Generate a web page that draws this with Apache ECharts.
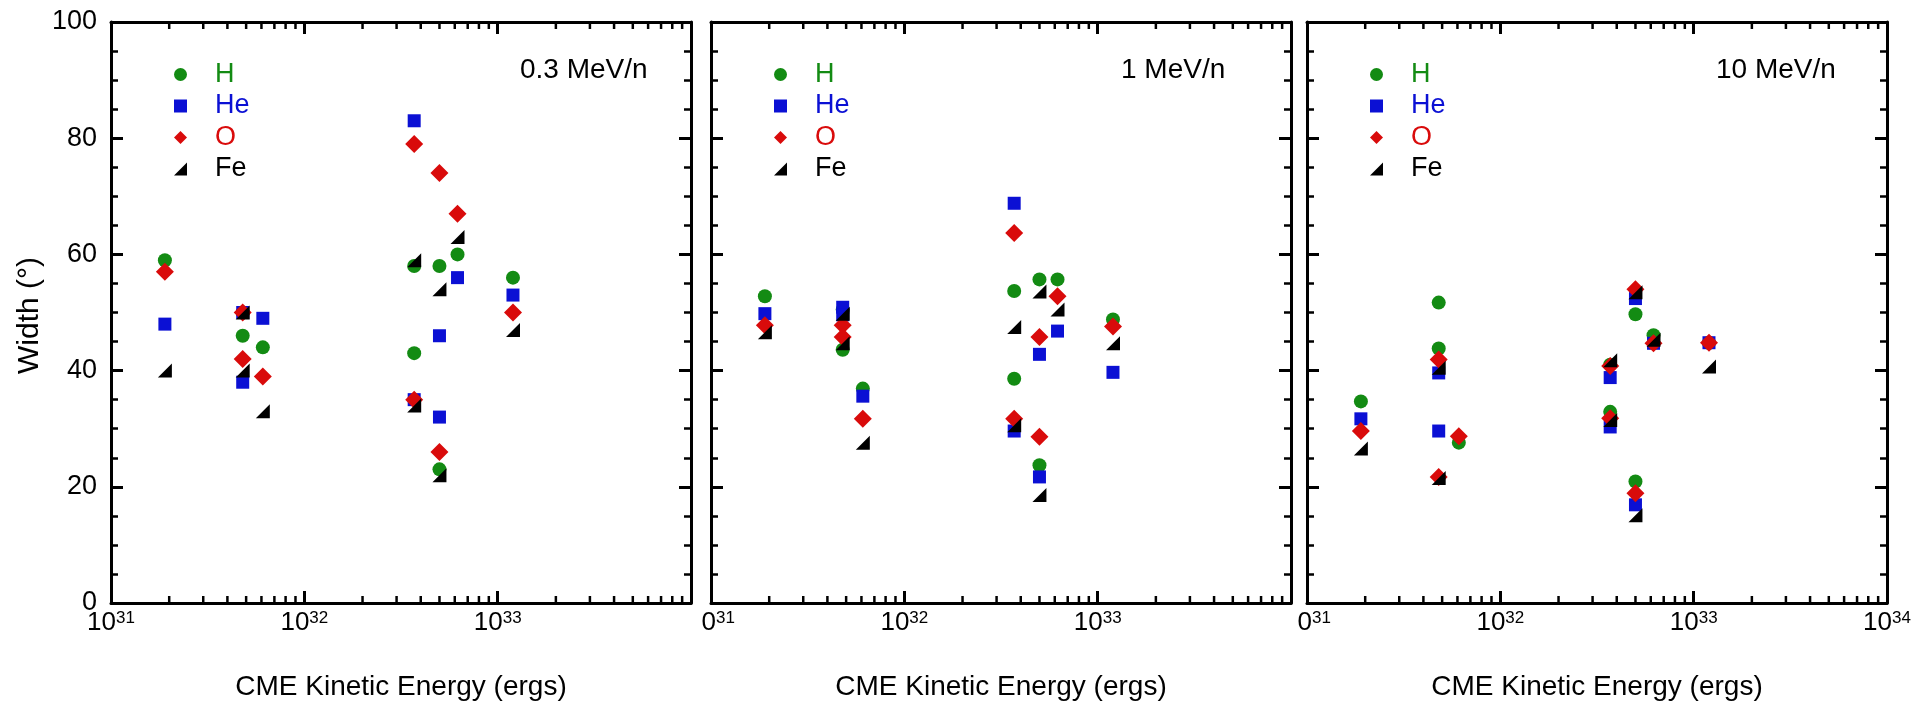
<!DOCTYPE html>
<html>
<head>
<meta charset="utf-8">
<script src="https://cdn.jsdelivr.net/npm/echarts@6/dist/echarts.min.js"></script>
<style>
  html, body { margin: 0; padding: 0; background: #fff; }
  #chart { width: 1931px; height: 706px; }
</style>
</head>
<body>
<div id="chart"></div>
<script>
// CME kinetic energy (ergs) of each event, same events in all three panels
const energy = [1.9e31, 4.8e31, 4.8e31, 6.1e31, 3.7e32, 3.7e32, 5.0e32, 5.0e32, 6.2e32, 1.2e33];

// longitudinal width (deg) per species, 0.3 MeV/n
const h03  = [59, 50, 46, 44, 58, 43, 58, 23, 60, 56];
const he03 = [48, 50, 38, 49, 83, 35, 46, 32, 56, 53];
const o03  = [57, 50, 42, 39, 79, 35, 74, 26, 67, 50];
const fe03 = [40, 50, 40, 33, 59, 34, 54, 22, 63, 47];

// 1 MeV/n
const h1  = [52.8, 50.5, 43.6, 36.9, 53.7, 38.6, 55.7, 23.7, 55.7, 48.8];
const he1 = [49.8, 50.9, 49.6, 35.6, 68.8, 29.6, 42.8, 21.7, 46.8, 39.7];
const o1  = [47.8, 47.8, 45.8, 31.7, 63.7, 31.7, 45.8, 28.6, 52.8, 47.6];
const fe1 = [46.6, 49.8, 44.7, 27.6, 47.5, 30.6, 53.6, 18.6, 50.5, 44.7];

// 10 MeV/n
const h10  = [34.7, 51.7, 43.8, 27.6, 41.0, 32.9, 49.7, 20.9, 46.1, 44.8];
const he10 = [31.7, 39.6, 29.6, null, 38.8, 30.3, 52.4, 16.9, 44.7, 44.8];
const o10  = [29.6, 41.9, 21.7, 28.7, 40.8, 31.8, 54.0, 18.9, 44.7, 44.8];
const fe10 = [26.6, 40.5, 21.5, null, 41.8, 31.5, 53.5, 15.1, 45.3, 40.7];

const speciesNames = ['H', 'He', 'O', 'Fe'];
const panelTitles = ['0.3 MeV/n', '1 MeV/n', '10 MeV/n'];
const panelData = [
    [h03, he03, o03, fe03],
    [h1, he1, o1, fe1],
    [h10, he10, o10, fe10]
];

// styles
const speciesColor = ['#138b13', '#0b10d4', '#d90b0b', '#000000'];
const speciesSymbol = ['circle', 'rect', 'diamond', 'path://M0,10 L10,10 L10,0 Z'];
const speciesSize = [14, 13, 18, 14];
const font = 'Liberation Sans, Arial, sans-serif';

// layout of the three frames
const gridLeft = [111, 711, 1307];
const gridTop = 22;
const gridW = 580;
const gridH = 581;

// log minor ticks 2..9 per decade
const minorX = [];
[1e31, 1e32, 1e33].forEach(d => {
    for (let k = 2; k <= 9; k++) minorX.push([k * d, 0]);
});

function expOf(v) {
    return Math.round(Math.log10(v));
}

function xLabel(p) {
    return function (v) {
        let e = expOf(v);
        if (e === 34 && p < 2) return '';
        if (e === 31 && p > 0) return '{z|0}{s|31}';   // left digit cut off by the frame crop
        return '{b|10}{s|' + e + '}';
    };
}

const richX = {
    b: { fontSize: 26, lineHeight: 26, verticalAlign: 'bottom', color: '#000', fontFamily: font },
    z: { fontSize: 26, lineHeight: 26, verticalAlign: 'bottom', color: '#000', fontFamily: font, padding: [0, 0, 0, 14.5] },
    s: { fontSize: 17, lineHeight: 17, verticalAlign: 'top', color: '#000', fontFamily: font, padding: [0, 0, 13, 0] }
};

function minorRender(params, api) {
    let b = api.coord([api.value(0), 0]);
    let t = api.coord([api.value(0), 100]);
    let st = { stroke: '#000', lineWidth: 2.5 };
    return {
        type: 'group',
        children: [
            { type: 'line', shape: { x1: b[0], y1: b[1], x2: b[0], y2: b[1] - 7 }, style: st },
            { type: 'line', shape: { x1: t[0], y1: t[1], x2: t[0], y2: t[1] + 7 }, style: st }
        ]
    };
}

let grid = [], xAxis = [], yAxis = [], series = [], legend = [], title = [];

panelData.forEach((vals, p) => {
    grid.push({ left: gridLeft[p], top: gridTop, width: gridW, height: gridH });

    let axisLine = { show: true, onZero: false, lineStyle: { color: '#000', width: 3 } };
    let axisTick = { show: true, inside: true, length: 12, lineStyle: { color: '#000', width: 3 } };

    xAxis.push({
        type: 'log', logBase: 10, gridIndex: p, position: 'bottom',
        min: 1e31, max: 1e34,
        axisLine: axisLine, axisTick: axisTick, splitLine: { show: false },
        axisLabel: { show: true, margin: 7, formatter: xLabel(p), rich: richX },
        name: 'CME Kinetic Energy (ergs)', nameLocation: 'middle', nameGap: 70,
        nameTextStyle: { fontSize: 28, color: '#000', fontFamily: font }
    });
    xAxis.push({
        type: 'log', logBase: 10, gridIndex: p, position: 'top',
        min: 1e31, max: 1e34,
        axisLine: axisLine, axisTick: axisTick, splitLine: { show: false },
        axisLabel: { show: false }
    });

    let minorTick = { show: true, splitNumber: 4, length: 7, lineStyle: { color: '#000', width: 2.5 } };
    let left = {
        type: 'value', gridIndex: p, position: 'left', min: 0, max: 100, interval: 20,
        axisLine: axisLine, axisTick: axisTick, minorTick: minorTick, splitLine: { show: false },
        axisLabel: { show: p === 0, fontSize: 27, color: '#000', fontFamily: font, margin: 14 }
    };
    if (p === 0) {
        left.name = 'Width (°)';
        left.nameLocation = 'middle';
        left.nameGap = 66;
        left.nameTextStyle = { fontSize: 30, color: '#000', fontFamily: font, padding: [0, 6, 0, 0] };
    }
    yAxis.push(left);
    yAxis.push({
        type: 'value', gridIndex: p, position: 'right', min: 0, max: 100, interval: 20,
        axisLine: axisLine, axisTick: axisTick, minorTick: minorTick, splitLine: { show: false },
        axisLabel: { show: false }
    });

    vals.forEach((arr, s) => {
        series.push({
            type: 'scatter',
            name: speciesNames[s],
            xAxisIndex: p * 2,
            yAxisIndex: p * 2,
            symbol: speciesSymbol[s],
            symbolSize: speciesSize[s],
            itemStyle: { color: speciesColor[s], opacity: 1 },
            data: energy.map((e, i) => [e, arr[i]]).filter(d => d[1] != null),
            z: 3 + s
        });
    });

    series.push({
        type: 'custom',
        xAxisIndex: p * 2,
        yAxisIndex: p * 2,
        silent: true,
        renderItem: minorRender,
        data: minorX,
        z: 10
    });

    legend.push({
        orient: 'vertical',
        left: gridLeft[p] + 58,
        top: 56,
        itemWidth: 13,
        itemHeight: 13,
        itemGap: 4.5,
        selectedMode: false,
        textStyle: { fontSize: 27, lineHeight: 27, fontFamily: font, padding: [0, 0, 0, 23] },
        data: speciesNames.map((n, s) => ({ name: n, textStyle: { color: speciesColor[s] } }))
    });

    title.push({
        text: panelTitles[p],
        left: [520, 1121, 1716][p],
        top: 56,
        padding: 0,
        textStyle: { fontSize: 28, fontWeight: 'normal', color: '#000', fontFamily: font }
    });
});

let myChart = echarts.init(document.getElementById('chart'));
myChart.setOption({
    animation: false,
    backgroundColor: '#fff',
    title: title,
    legend: legend,
    grid: grid,
    xAxis: xAxis,
    yAxis: yAxis,
    series: series
});
</script>
</body>
</html>
